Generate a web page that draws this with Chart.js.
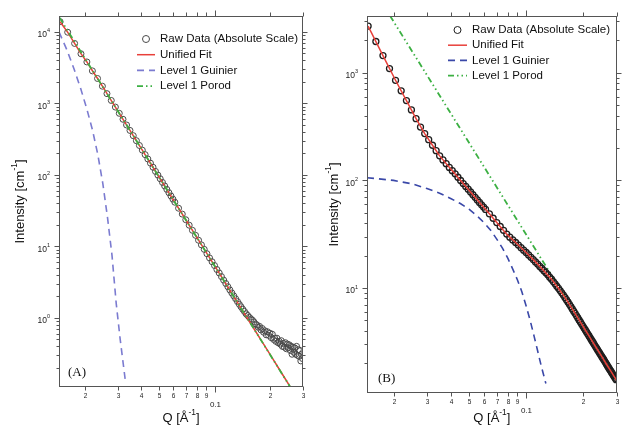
<!DOCTYPE html>
<html>
<head>
<meta charset="utf-8">
<script src="https://cdn.jsdelivr.net/npm/chart.js@4.4.1/dist/chart.umd.min.js"></script>
<style>
  body { margin: 0; background: #fff; }
  #wrap { position: relative; width: 622px; height: 426px; }
  #wrap canvas { position: absolute; top: 0; }
</style>
</head>
<body>
<div id="wrap">
  <canvas id="chartA" width="311" height="426" style="left:0"></canvas>
  <canvas id="chartB" width="311" height="426" style="left:311px"></canvas>
</div>
<script>
// Q grid of the measured curves (both samples)
const qRaw = [0.0147, 0.01615, 0.0176, 0.01905, 0.0205, 0.02195, 0.0234, 0.02485, 0.0263, 0.02775,
  0.0292, 0.03065, 0.0321, 0.03355, 0.035, 0.03645, 0.0379, 0.03935, 0.0408, 0.04225,
  0.0437, 0.04515, 0.0466, 0.04805, 0.0495, 0.05095, 0.0524, 0.05385, 0.0553, 0.05675,
  0.0582, 0.05965, 0.0611,
  0.064, 0.067, 0.070, 0.073, 0.076, 0.079, 0.082, 0.085, 0.088, 0.091, 0.094, 0.097, 0.100,
  0.103, 0.106, 0.109, 0.112, 0.115, 0.118, 0.121, 0.124, 0.127, 0.130, 0.133, 0.136, 0.139,
  0.142, 0.145, 0.148, 0.151, 0.154, 0.157, 0.160, 0.163, 0.166, 0.169, 0.172, 0.175, 0.178,
  0.181, 0.184, 0.187, 0.190, 0.193, 0.196, 0.199, 0.202, 0.205, 0.208, 0.211, 0.214, 0.217,
  0.220, 0.223, 0.226, 0.229, 0.232, 0.235, 0.238, 0.241, 0.244, 0.247, 0.250, 0.253, 0.256,
  0.259, 0.262, 0.265, 0.268, 0.271, 0.274, 0.277, 0.280, 0.283, 0.286, 0.289, 0.292, 0.295, 0.298];

// (A) raw intensities
const iRawA = [13900, 9900, 6900, 4950, 3800, 2850, 2230, 1740, 1370, 1100,
  889, 727, 600, 499, 419, 354, 301, 258, 222, 192,
  167, 146, 128, 112, 99.4, 88.3, 78.5, 70.1, 62.8, 56.4,
  50.8, 45.8, 41.5,
  34.2, 28.3, 23.6, 19.8, 16.8, 14.3, 12.2, 10.5, 9.1, 7.9, 6.9, 6.1, 5.4,
  4.75, 4.25, 3.78, 3.38, 3.03, 2.73, 2.46, 2.23, 2.03, 1.85, 1.69, 1.55, 1.43,
  1.32, 1.23, 1.14, 1.08, 1.02, 0.97, 0.93, 0.88, 0.82, 0.80, 0.74, 0.76, 0.68,
  0.71, 0.63, 0.66, 0.58, 0.64, 0.57, 0.61, 0.53, 0.59, 0.50, 0.52, 0.47, 0.52,
  0.45, 0.47, 0.43, 0.48, 0.40, 0.44, 0.39, 0.45, 0.37, 0.43, 0.38, 0.42, 0.35,
  0.40, 0.31, 0.39, 0.33, 0.38, 0.31, 0.40, 0.30, 0.36, 0.29, 0.35, 0.25, 0.31, 0.27];

// (B) raw intensities
const iRawB = [2710, 1950, 1442, 1094, 851, 679, 551, 451, 374, 313,
  272, 239, 212, 189, 169, 155, 143, 132, 123, 115,
  107, 99.8, 93.5, 87.9, 82.8, 78.0, 73.6, 69.7, 65.9, 62.5,
  59.3, 56.5, 53.7,
  48.9, 44.5, 40.6, 37.3, 34.4, 31.7, 29.7, 28.0, 26.5, 25.1, 23.7, 22.5, 21.4,
  20.3, 19.3, 18.4, 17.5, 16.7, 15.9, 15.2, 14.5, 13.9, 13.3, 12.6, 12.1, 11.5,
  10.96, 10.4, 9.95, 9.48, 9.03, 8.60, 8.19, 7.79, 7.42, 7.06, 6.73, 6.40, 6.10,
  5.82, 5.55, 5.30, 5.06, 4.84, 4.63, 4.44, 4.25, 4.08, 3.91, 3.76, 3.61, 3.47,
  3.33, 3.21, 3.09, 2.97, 2.86, 2.76, 2.66, 2.57, 2.48, 2.40, 2.32, 2.24, 2.17,
  2.10, 2.03, 1.96, 1.90, 1.84, 1.78, 1.73, 1.68, 1.63, 1.58, 1.53, 1.49, 1.45, 1.41];

// model curves (A)
const qFitA = [0.0147, 0.0162, 0.0176, 0.019, 0.0205, 0.022, 0.0234, 0.025, 0.0275, 0.030, 0.035, 0.040,
  0.050, 0.060, 0.070, 0.080, 0.100, 0.120, 0.140, 0.160, 0.180, 0.200, 0.220, 0.240, 0.255];
const iFitA = [13900, 9800, 6900, 5000, 3800, 2840, 2230, 1700, 1140, 794, 419, 240,
  95.3, 44.7, 23.6, 13.6, 5.37, 2.52, 1.33, 0.764, 0.469, 0.303, 0.204, 0.142, 0.110];
const qGuinierA = [0.0145, 0.016, 0.0175, 0.019, 0.0205, 0.022, 0.0235, 0.025, 0.0265, 0.028, 0.0295, 0.031, 0.0332];
const iGuinierA = [10000, 5600, 3000, 1600, 830, 420, 190, 75, 25, 7.5, 1.6, 0.5, 0.12];
const qPorodA = [0.0146, 0.255];
const iPorodA = [15800, 0.110];

// model curves (B)
const qFitB = [0.0147, 0.0176, 0.0205, 0.0234, 0.0263, 0.0292, 0.0321, 0.035, 0.0408, 0.0466, 0.0524,
  0.0582, 0.064, 0.070, 0.079, 0.088, 0.100, 0.112, 0.124, 0.136, 0.148, 0.160, 0.175, 0.190,
  0.205, 0.220, 0.235, 0.250, 0.265, 0.280, 0.300];
const iFitB = [2710, 1442, 851, 551, 374, 272, 212, 169, 123, 93.5, 73.6,
  59.3, 48.9, 40.6, 31.7, 26.5, 21.4, 17.5, 14.5, 12.1, 9.95, 8.19, 6.40, 5.06,
  4.08, 3.33, 2.76, 2.32, 1.96, 1.68, 1.38];
const qGuinierB = [0.0145, 0.02, 0.025, 0.03, 0.035, 0.04, 0.045, 0.05, 0.055, 0.06, 0.065, 0.07,
  0.075, 0.08, 0.085, 0.09, 0.095, 0.1, 0.105, 0.11, 0.115, 0.12, 0.127];
const iGuinierB = [106, 100, 93, 84, 76, 68, 61, 54, 47, 40.5, 34.5, 28.5,
  23.5, 19, 15, 11.9, 9.2, 6.8, 5.0, 3.6, 2.6, 1.9, 1.3];
const qPorodB = [0.0192, 0.3];
const iPorodB = [3365, 1.40];

// axes
const xTicks = [0.02, 0.03, 0.04, 0.05, 0.06, 0.07, 0.08, 0.09, 0.1, 0.2, 0.3];
const xTickLabels = ['2', '3', '4', '5', '6', '7', '8', '9', '0.1', '2', '3'];
const yMajorA = [1, 10, 100, 1000, 10000];
const yExpA = ['0', '1', '2', '3', '4'];
const yMajorB = [10, 100, 1000];
const yExpB = ['1', '2', '3'];

const FONT = 'Liberation Sans, Arial, sans-serif';

function pts(qs, is) {
  return qs.map((q, i) => ({ x: q, y: is[i] }));
}

// text with superscript parts: [[text, isSup], ...]
function richWidth(ctx, parts, size) {
  let w = 0;
  parts.forEach(([t, sup]) => {
    ctx.font = (sup ? size * 0.65 : size) + 'px ' + FONT;
    w += ctx.measureText(t).width;
  });
  return w;
}
function drawRich(ctx, parts, x, y, size) {
  let cx = x - richWidth(ctx, parts, size) / 2;
  ctx.textAlign = 'left';
  ctx.textBaseline = 'middle';
  parts.forEach(([t, sup]) => {
    ctx.font = (sup ? size * 0.65 : size) + 'px ' + FONT;
    ctx.fillText(t, cx, sup ? y - size * 0.42 : y);
    cx += ctx.measureText(t).width;
  });
}

const panels = {
  chartA: {
    yMajor: yMajorA, yExp: yExpA,
    legend: { x: 137, len: 18, textX: 160, y: 39, row: 15.7 },
    letter: { text: '(A)', x: 68, y: 373 }
  },
  chartB: {
    yMajor: yMajorB, yExp: yExpB,
    legend: { x: 137, len: 19, textX: 161, y: 30, row: 15.2 },
    letter: { text: '(B)', x: 67, y: 379 }
  }
};

const panelAxes = {
  id: 'panelAxes',
  afterDraw(chart) {
    const p = panels[chart.canvas.id];
    const ctx = chart.ctx, a = chart.chartArea;
    const xs = chart.scales.x, ys = chart.scales.y;
    const L = Math.round(a.left) + 0.5, R = Math.round(a.right) - 0.5;
    const T = Math.round(a.top) + 0.5, B = Math.round(a.bottom) - 0.5;
    ctx.save();
    ctx.strokeStyle = '#555';
    ctx.lineWidth = 1;
    ctx.setLineDash([]);
    ctx.strokeRect(L, T, R - L, B - T);

    const seg = (x1, y1, x2, y2) => { ctx.beginPath(); ctx.moveTo(x1, y1); ctx.lineTo(x2, y2); ctx.stroke(); };
    ctx.fillStyle = '#222';

    // x ticks on bottom and top
    xTicks.forEach((v, i) => {
      const px = Math.round(xs.getPixelForValue(v)) + 0.5;
      const major = v === 0.1;
      const len = major ? 6 : 4;
      seg(px, B, px, B + len);
      seg(px, T, px, T - len);
      ctx.textAlign = 'center';
      ctx.textBaseline = 'middle';
      if (major) {
        ctx.font = '8px ' + FONT;
        ctx.fillText(xTickLabels[i], px, B + 18);
      } else {
        ctx.font = '6.5px ' + FONT;
        ctx.fillText(xTickLabels[i], px, B + 10);
      }
    });

    // y ticks on left and right
    const lo = Math.floor(Math.log10(ys.min)), hi = Math.ceil(Math.log10(ys.max));
    for (let d = lo; d <= hi; d++) {
      for (let m = 1; m <= 9; m++) {
        const v = m * Math.pow(10, d);
        if (v < ys.min || v > ys.max) continue;
        const py = Math.round(ys.getPixelForValue(v)) + 0.5;
        const len = m === 1 ? 5 : 3;
        seg(L, py, L - len, py);
        seg(R, py, R + len, py);
      }
    }
    p.yMajor.forEach((v, i) => {
      const py = ys.getPixelForValue(v);
      ctx.font = '5.5px ' + FONT;
      const sw = ctx.measureText(p.yExp[i]).width;
      const right = a.left - 9;
      ctx.textAlign = 'right';
      ctx.textBaseline = 'middle';
      ctx.fillText(p.yExp[i], right, py - 1);
      ctx.font = '8.5px ' + FONT;
      ctx.fillText('10', right - sw, py + 3);
    });

    // axis titles
    ctx.fillStyle = '#111';
    drawRich(ctx, [['Q [Å', false], ['-1', true], [']', false]], (a.left + a.right) / 2, 418, 13);
    ctx.save();
    ctx.translate(chart.canvas.id === 'chartA' ? 20 : 23, (a.top + a.bottom) / 2);
    ctx.rotate(-Math.PI / 2);
    drawRich(ctx, [['Intensity [cm', false], ['-1', true], [']', false]], 0, 0, 13);
    ctx.restore();

    // panel letter
    ctx.font = '13px Liberation Serif, Times New Roman, serif';
    ctx.textAlign = 'left';
    ctx.textBaseline = 'middle';
    ctx.fillText(p.letter.text, p.letter.x, p.letter.y);

    // legend
    const lg = p.legend;
    chart.data.datasets.forEach((ds, i) => {
      const cy = lg.y + i * lg.row;
      if (ds.showLine) {
        ctx.strokeStyle = ds.borderColor;
        ctx.lineWidth = ds.borderWidth;
        ctx.setLineDash(ds.borderDash || []);
        seg(lg.x, cy, lg.x + lg.len, cy);
        ctx.setLineDash([]);
      } else {
        ctx.strokeStyle = ds.pointBorderColor;
        ctx.lineWidth = 1;
        ctx.beginPath();
        ctx.arc(lg.x + lg.len / 2, cy, 3.5, 0, Math.PI * 2);
        ctx.stroke();
      }
      ctx.fillStyle = '#111';
      ctx.font = '11.5px ' + FONT;
      ctx.textAlign = 'left';
      ctx.textBaseline = 'middle';
      ctx.fillText(ds.label, lg.textX, cy);
    });
    ctx.restore();
  }
};

function makePanel(id, raw, fit, guinier, porod, yMin, yMax, pad, look) {
  return new Chart(document.getElementById(id), {
    type: 'scatter',
    data: {
      datasets: [
        {
          label: 'Raw Data (Absolute Scale)', data: raw, order: look.rawOrder,
          pointStyle: 'circle', pointRadius: 3, pointBorderWidth: look.rawWidth,
          pointBorderColor: look.rawColor, pointBackgroundColor: 'rgba(255,255,255,0)', showLine: false
        },
        {
          label: 'Unified Fit', data: fit, order: 0, showLine: true, pointRadius: 0,
          borderColor: '#e8403a', borderWidth: 1.5
        },
        {
          label: 'Level 1 Guinier', data: guinier, order: 3, showLine: true, pointRadius: 0,
          borderColor: look.guinierColor, borderWidth: 1.6, borderDash: [7, 5]
        },
        {
          label: 'Level 1 Porod', data: porod, order: look.porodOrder, showLine: true, pointRadius: 0,
          borderColor: '#3cb043', borderWidth: 1.8, borderDash: [6, 3, 1.5, 3, 1.5, 3]
        }
      ]
    },
    options: {
      responsive: false,
      animation: false,
      layout: { padding: pad },
      scales: {
        x: { type: 'logarithmic', min: 0.0145, max: 0.3, display: false },
        y: { type: 'logarithmic', min: yMin, max: yMax, display: false }
      },
      plugins: { legend: { display: false }, tooltip: { enabled: false } }
    },
    plugins: [panelAxes]
  });
}

makePanel('chartA', pts(qRaw, iRawA), pts(qFitA, iFitA), pts(qGuinierA, iGuinierA), pts(qPorodA, iPorodA),
  0.108, 16700, { left: 59, top: 16, right: 8, bottom: 39 },
  { rawColor: '#4a4a4a', rawWidth: 1, guinierColor: '#7b7bd0', rawOrder: 2, porodOrder: -1 });

makePanel('chartB', pts(qRaw, iRawB), pts(qFitB, iFitB), pts(qGuinierB, iGuinierB), pts(qPorodB, iPorodB),
  1.06, 3365, { left: 56, top: 16, right: 2, bottom: 33 },
  { rawColor: '#1e1e1e', rawWidth: 1.3, guinierColor: '#3a48a8', rawOrder: 1, porodOrder: 2 });
</script>
</body>
</html>
